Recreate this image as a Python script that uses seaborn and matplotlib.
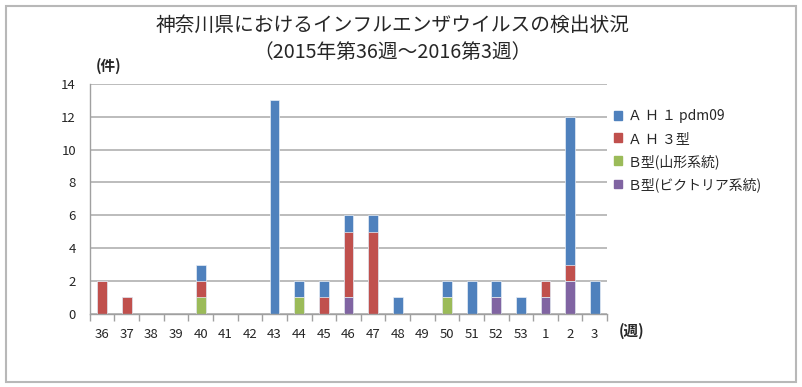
import matplotlib
matplotlib.use("Agg")
import matplotlib.pyplot as plt
from matplotlib.patches import Patch, Rectangle
import numpy as np
import pandas as pd
import seaborn as sns

weeks = ["36", "37", "38", "39", "40", "41", "42", "43", "44", "45", "46",
         "47", "48", "49", "50", "51", "52", "53", "1", "2", "3"]
ah1 = [0, 0, 0, 0, 1, 0, 0, 13, 1, 1, 1, 1, 1, 0, 1, 2, 1, 1, 0, 9, 2]
ah3 = [2, 1, 0, 0, 1, 0, 0, 0, 0, 1, 4, 5, 0, 0, 0, 0, 0, 0, 1, 1, 0]
b_yamagata = [0, 0, 0, 0, 1, 0, 0, 0, 1, 0, 0, 0, 0, 0, 1, 0, 0, 0, 0, 0, 0]
b_victoria = [0, 0, 0, 0, 0, 0, 0, 0, 0, 0, 1, 0, 0, 0, 0, 0, 1, 0, 1, 2, 0]

labels = ["Ａ Ｈ １ pdm09", "Ａ Ｈ ３型", "Ｂ型(山形系統)", "Ｂ型(ビクトリア系統)"]
colors = ["#4F81BD", "#C0504D", "#9BBB59", "#8064A2"]

sns.set_theme(style="white")
plt.rcParams["font.family"] = ["Noto Sans CJK JP", "DejaVu Sans"]

fig = plt.figure(figsize=(8.02, 3.87), dpi=100)
ax = fig.add_axes([0.112, 0.189, 0.645, 0.594])

# stacked bars: draw cumulative totals from tallest layer down
layers = [b_victoria, b_yamagata, ah3, ah1]
cum = np.cumsum(np.array(layers), axis=0)
for i in range(len(layers) - 1, -1, -1):
    df = pd.DataFrame({"week": weeks, "n": cum[i]})
    sns.barplot(data=df, x="week", y="n", order=weeks, color=colors[3 - i],
                saturation=1, width=0.4, ax=ax, errorbar=None,
                edgecolor="#E8EEF6", linewidth=0.5)

ax.set_ylim(0, 14)
ax.set_xlim(-0.5, len(weeks) - 0.5)
ax.set_yticks(range(0, 15, 2))
ax.set_xlabel("")
ax.set_ylabel("")
ax.yaxis.grid(True, color="#B0B0B0", linewidth=1.2)
ax.set_axisbelow(True)
for s in ["top", "right"]:
    ax.spines[s].set_visible(False)
for s in ["left", "bottom"]:
    ax.spines[s].set_color("#A0A0A0")
    ax.spines[s].set_linewidth(1)
ax.set_xticks(np.arange(-0.5, len(weeks), 1), minor=True)
ax.tick_params(axis="x", which="major", length=0, labelsize=9.5, pad=10)
ax.tick_params(axis="x", which="minor", length=5, color="#A0A0A0", bottom=True)
ax.tick_params(axis="y", length=0, labelsize=9.5, pad=10)

fig.text(0.49, 0.935, "神奈川県におけるインフルエンザウイルスの検出状況",
         ha="center", va="center", fontsize=14.2)
fig.text(0.49, 0.865, "（2015年第36週～2016第3週）",
         ha="center", va="center", fontsize=14.2)
fig.text(0.12, 0.83, "(件)", ha="left", va="center", fontsize=10.5, fontweight="bold")
fig.text(0.772, 0.145, "(週)", ha="left", va="center", fontsize=10.5, fontweight="bold")

handles = [Patch(color=c, label=l) for c, l in zip(colors, labels)]
fig.legend(handles=handles, loc="upper left", bbox_to_anchor=(0.75, 0.75),
           frameon=False, fontsize=10, handlelength=0.6, handleheight=0.6,
           handletextpad=0.4, labelspacing=0.6)

fig.patches.append(Rectangle((0.007, 0.013), 0.985, 0.972, transform=fig.transFigure,
                             fill=False, edgecolor="#B8B8B8", linewidth=1.5))

fig.savefig("out.png", dpi=100)
